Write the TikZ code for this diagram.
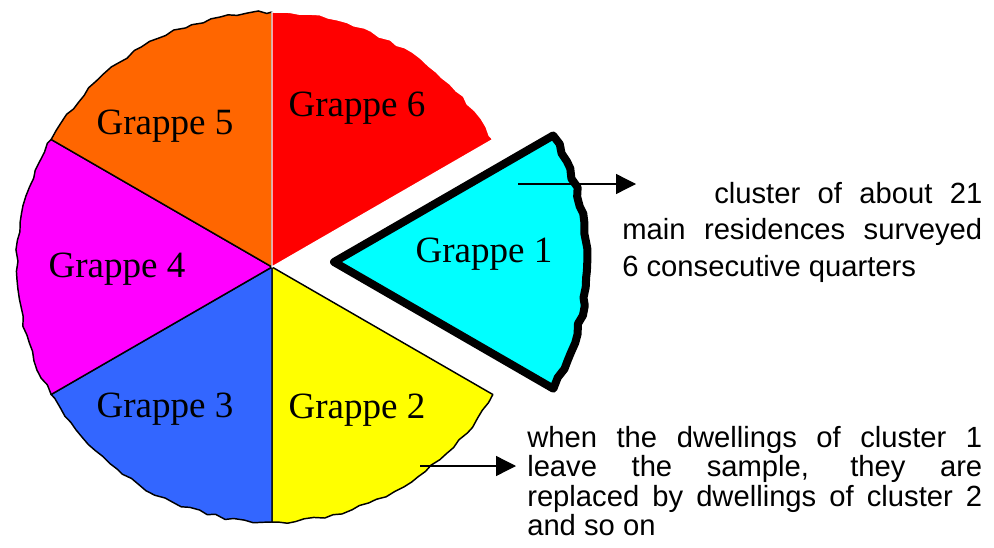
\documentclass[tikz,border=0pt]{standalone}
\usepackage{fontspec}
\setmainfont{Liberation Serif}
\newfontfamily\notefont{Liberation Sans}
\usetikzlibrary{decorations.pathmorphing,arrows.meta}

\definecolor{grred}{RGB}{255,0,0}
\definecolor{grcyan}{RGB}{0,255,255}
\definecolor{gryellow}{RGB}{255,255,0}
\definecolor{grblue}{RGB}{51,102,255}
\definecolor{grmagenta}{RGB}{255,0,255}
\definecolor{grorange}{RGB}{255,102,0}

\tikzset{
  wavy/.style={decoration={random steps,segment length=7pt,amplitude=1.2pt}},
  sector/.style={draw=black,line width=1.1pt,line join=round},
  glabel/.style={font=\fontsize{27.8}{30}\selectfont,inner sep=0pt},
  note/.style={font=\notefont\fontsize{21.9}{22.1}\selectfont,align=justify,inner sep=0pt},
  pointer/.style={line width=1pt,-{Triangle[length=15pt,width=15pt]}}
}

\begin{document}
\begin{tikzpicture}[x=0.75pt,y=0.75pt]
    \useasboundingbox (0,0) rectangle (994,547);
    \pgfmathsetseed{7}
    \coordinate (O) at (272,280);
    \coordinate (O1) at (334,285);

    % les grappes 2 a 5
    \filldraw[sector,fill=gryellow] (O) -- ++(-30:255) decorate[wavy]{arc (-30:-90:255)} -- cycle;
    \filldraw[sector,fill=grblue] (O) -- ++(-90:255) decorate[wavy]{arc (-90:-150:255)} -- cycle;
    \filldraw[sector,fill=grmagenta] (O) -- ++(-150:255) decorate[wavy]{arc (-150:-210:255)} -- cycle;
    \filldraw[sector,fill=grorange] (O) -- ++(150:255) decorate[wavy]{arc (150:90:255)} -- cycle;
    % grappe 6, bord blanc
    \filldraw[sector,draw=white,fill=grred] (O) -- ++(90:255) decorate[wavy]{arc (90:30:255)} -- cycle;

    % grappe 1 sortie du disque
    \filldraw[fill=grcyan,draw=black,line width=6pt,line join=round]
        (O1) -- ++(30:253) decorate[wavy]{arc (30:-30:253)} -- cycle;

    \node[glabel] (g1) at (484,293) {Grappe 1};
    \node[glabel] (g2) at (357,137) {Grappe 2};
    \node[glabel] (g3) at (165,138) {Grappe 3};
    \node[glabel] (g4) at (117,278) {Grappe 4};
    \node[glabel] (g5) at (165,421) {Grappe 5};
    \node[glabel] (g6) at (357,439) {Grappe 6};

    % textes de droite
    \node[note,text width=270pt,anchor=north west,font=\notefont\fontsize{21.9}{27.4}\selectfont] (t1) at (622,365)
        {\hspace*{69pt}cluster of about 21\linebreak main residences surveyed\linebreak 6 consecutive quarters};
    \node[note,text width=341.25pt,anchor=north west] (t2) at (527,121)
        {when the dwellings of cluster 1\linebreak leave the sample, they are\linebreak replaced by dwellings of cluster 2\linebreak and so on};

    % fleches
    \coordinate (a1) at (518,363);
    \coordinate (b1) at (636,363);
    \coordinate (a2) at (420,81);
    \coordinate (b2) at (516,81);
    \draw[pointer] (a1) -- (b1);
    \draw[pointer] (a2) -- (b2);
\end{tikzpicture}
\end{document}
